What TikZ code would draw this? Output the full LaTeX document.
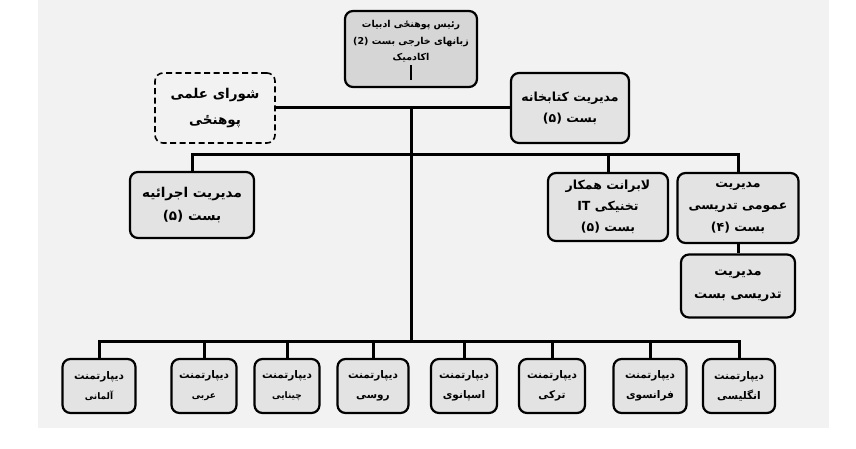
\documentclass[tikz,border=0pt]{standalone}
\usepackage{fontspec}
\newfontfamily\fa[Script=Arabic]{DejaVu Sans}
\TeXXeTstate=1
\usetikzlibrary{positioning}

\newcommand\rl[1]{\beginR #1\endR}

\begin{document}
\begin{tikzpicture}[x=1pt,y=-1pt,
    box/.style={draw,line width=2.2pt,rounded corners=8pt,fill=black!11,
      align=center,inner sep=2pt,font=\fa\bfseries\fontsize{12.5}{21}\selectfont},
    council/.style={box,fill=none,line width=1.6pt,dash pattern=on 6pt off 3.5pt},
    dept/.style={box,minimum height=54,font=\fa\bfseries\fontsize{10.5}{20}\selectfont},
    link/.style={line width=3pt}]
  \useasboundingbox (0,0) rectangle (856,449);
  \fill[black!5] (38,0) rectangle (829,428);

  % head of faculty
  \node[box,fill=black!16,minimum width=132,minimum height=76,
    font=\fa\bfseries\fontsize{9.5}{16.5}\selectfont] (head) at (411,49)
    {\rl{رئیس پوهنځی ادبیات}\\\rl{زبانهای خارجی بست (2)}\\\rl{اکادمیک}\\\mbox{}};
  \draw[line width=2pt] ([yshift=8pt]head.south) -- ([yshift=23pt]head.south);

  \node[council,minimum width=120,minimum height=70,
    font=\fa\bfseries\fontsize{13.5}{26}\selectfont] (sc) at (215,108)
    {\rl{شورای علمی}\\\rl{پوهنځی}};
  \node[box,minimum width=118,minimum height=70] (lib) at (570,108)
    {\rl{مدیریت کتابخانه}\\\rl{بست (۵)}};

  \node[box,minimum width=124,minimum height=66,
    font=\fa\bfseries\fontsize{13.5}{23}\selectfont] (exec) at (192,205)
    {\rl{مدیریت اجرائیه}\\\rl{بست (۵)}};
  \node[box,minimum width=120,minimum height=68] (it) at (608,207)
    {\rl{لابرانت همکار}\\\rl{تخنیکی IT}\\\rl{بست (۵)}};
  \node[box,minimum width=121,minimum height=70,
    font=\fa\bfseries\fontsize{12.5}{22}\selectfont] (gen) at (738,208)
    {\rl{مدیریت}\\\rl{عمومی تدریسی}\\\rl{بست (۴)}};
  \node[box,minimum width=114,minimum height=63,
    font=\fa\bfseries\fontsize{13}{23}\selectfont] (teach) at (738,286)
    {\rl{مدیریت}\\\rl{تدریسی بست}};

  % departments
  \foreach \x/\w/\s/\t [count=\i] in {99/73/9/آلمانی,204/65/9/عربی,
      287/65/9/چینایی,373/71/10.5/روسی,464/66/10.5/اسپانوی,552/66/10.5/ترکی,
      650/73/10.5/فرانسوی,739/72/10.5/انگلیسی}
    \node[dept,minimum width=\w] (d\i) at (\x,386)
      {دیپارتمنت\\{\fontsize{\s}{20}\selectfont\t}};

  \coordinate (top) at (411,108);
  \coordinate (mid) at (411,155);
  \coordinate (low) at (411,341);
  \draw[link] (sc.east) -- (lib.west);
  \draw[link] (top) -- (low);
  \draw[link] (exec.north) |- (mid) -| (gen.north);
  \draw[link] (it.north) -- (it.north |- mid);
  \draw[link] (gen) -- (teach);
  \draw[link] (d1.north) |- (low) -| (d8.north);
  \foreach \i in {2,...,7}
    \draw[link] (d\i.north) -- (d\i.north |- low);
\end{tikzpicture}
\end{document}
